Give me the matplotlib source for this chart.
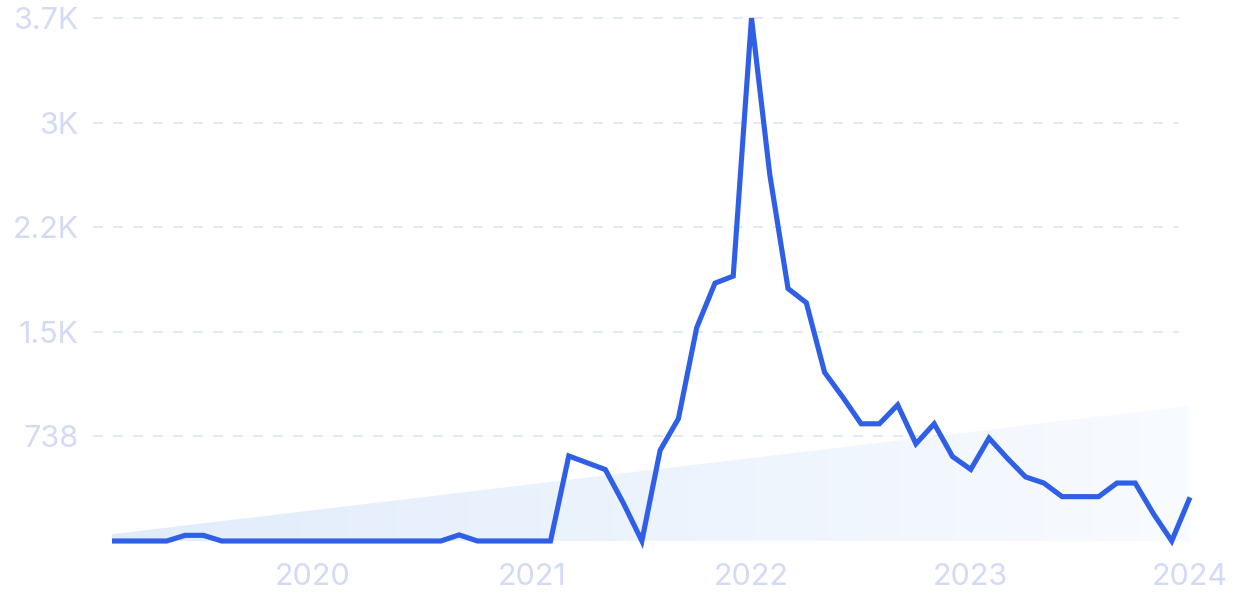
import matplotlib
matplotlib.use("Agg")
import matplotlib.pyplot as plt
import matplotlib.transforms as mtransforms
from matplotlib.patches import Polygon
import numpy as np
import pandas as pd

plt.rcParams['font.family'] = ['Inter', 'DejaVu Sans']

# monthly values, Feb 2019 .. Jan 2024
months = pd.date_range('2019-02-01', periods=60, freq='MS')
values = [0, 0, 0, 0, 40, 40, 0, 0, 0, 0, 0, 0,
          0, 0, 0, 0, 0, 0, 0, 43, 0, 0, 0, 0,
          0, 600, 552, 504, 264, 0, 640, 863, 1505, 1819, 1869, 3690,
          2586, 1781, 1681, 1190, 1014, 827, 827, 960, 686, 827, 596, 505,
          726, 584, 452, 409, 313, 313, 313, 409, 409, 192, 0, 308]
trend = [48, 954]  # start / end of the shaded trend area

ytick_vals = [738, 1476, 2214, 2952, 3690]
ytick_labels = ['738', '1.5K', '2.2K', '3K', '3.7K']
xtick_years = ['2020', '2021', '2022', '2023', '2024']

line_color = '#2E5FE6'
text_color = '#D2DAF5'
grid_color = '#DFE5F7'

fig = plt.figure(figsize=(12.34, 6.16), dpi=100)
ax = fig.add_axes([112 / 1234, 75 / 616, (1190 - 112) / 1234, (541 - 18) / 616])

x = np.arange(len(values))
ax.set_xlim(0, len(values) - 1)
ax.set_ylim(0, max(ytick_vals))

# gradient trend area
poly = Polygon([(0, 0), (0, trend[0]), (len(values) - 1, trend[1]), (len(values) - 1, 0)],
               closed=True, facecolor='none', edgecolor='none')
ax.add_patch(poly)
grad = np.linspace(0, 1, 256).reshape(1, -1)
cmap = matplotlib.colors.LinearSegmentedColormap.from_list('g', ['#E1ECFB', '#F8FBFF'])
im = ax.imshow(grad, extent=[0, len(values) - 1, 0, trend[1]], aspect='auto',
               cmap=cmap, origin='lower', zorder=1)
im.set_clip_path(poly)

# dashed gridlines
trans = mtransforms.blended_transform_factory(ax.transAxes, ax.transData)
for v in ytick_vals:
    ax.plot([-0.018, 0.99], [v, v], transform=trans, color=grid_color, lw=1.2,
            dashes=(6, 6), clip_on=False, zorder=0)

ax.plot(x, values, color=line_color, lw=3.7, solid_joinstyle='miter',
        solid_capstyle='butt', clip_on=False, zorder=3)

ax.set_yticks(ytick_vals)
ax.set_yticklabels(ytick_labels)
year_pos = [list(months).index(pd.Timestamp(f'{y}-01-01')) for y in xtick_years]
ax.set_xticks(year_pos)
ax.set_xticklabels(xtick_years)
ax.tick_params(axis='both', length=0, labelsize=22, labelcolor=text_color)
ax.tick_params(axis='y', pad=24)
ax.tick_params(axis='x', pad=16)

for s in ax.spines.values():
    s.set_visible(False)

fig.savefig('out.png', dpi=100, facecolor='white')
